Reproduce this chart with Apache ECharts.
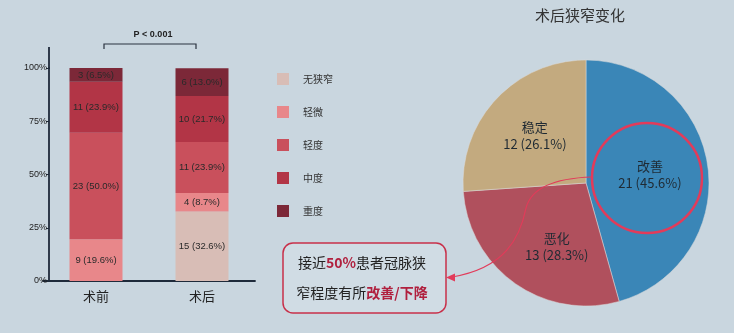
<!DOCTYPE html>
<html><head><meta charset="utf-8">
<script src="https://cdn.jsdelivr.net/npm/echarts@6/dist/echarts.min.js"></script>
<style>html,body{margin:0;padding:0;background:#c9d6df;}#c{width:734px;height:333px;}</style>
</head><body><div id="c"></div>
<script>
const categories = ['术前', '术后'];
const levels = ['无狭窄', '轻微', '轻度', '中度', '重度'];
const counts = [[0, 15], [9, 4], [23, 11], [11, 10], [3, 6]];
const pcts = [[0, 32.6], [19.6, 8.7], [50.0, 23.9], [23.9, 21.7], [6.5, 13.0]];
const yTicks = [0, 25, 50, 75, 100];
const pieNames = ['改善', '恶化', '稳定'];
const pieCounts = [21, 13, 12];
const piePcts = [45.6, 28.3, 26.1];

const levelColors = ['#d8bdb6', '#e8878a', '#c9505c', '#b23546', '#7c2838'];
const pieColors = ['#3a86b7', '#b0505d', '#c3aa7f'];
const pieLabelOffsets = [[0, 0], [8, 11], [-4, -3]];
const FONT = 'Noto Sans CJK SC, Noto Sans, sans-serif';

const chart = echarts.init(document.getElementById('c'));
const barSeries = levels.map((lv, i) => ({
  name: lv, type: 'bar', stack: 'a', barWidth: 53,
  itemStyle: { color: levelColors[i] },
  data: pcts[i].map((p, j) => ({ value: p, cnt: counts[i][j] })),
  label: {
    show: true, position: 'inside', color: '#2a2a2a', fontSize: 9.5,
    fontFamily: 'Liberation Sans, Arial, sans-serif',
    formatter: (pr) => pr.value > 0 ? pr.data.cnt + ' (' + pr.value.toFixed(1) + '%)' : ''
  }
}));

chart.setOption({
  backgroundColor: '#c9d6df',
  animation: false,
  grid: { left: 43, width: 212, top: 68, bottom: 52 },
  xAxis: {
    type: 'category', data: categories,
    axisLine: { lineStyle: { color: '#1e2a3a', width: 1.8 } },
    axisTick: { show: false },
    axisLabel: { color: '#222', fontSize: 13, fontFamily: FONT, margin: 9 }
  },
  yAxis: {
    type: 'value', min: 0, max: 100, interval: 25, offset: -6,
    axisLine: { show: true, lineStyle: { color: '#1e2a3a', width: 1.8 } },
    axisTick: { show: true, length: 3, lineStyle: { color: '#1e2a3a' } },
    splitLine: { show: false },
    axisLabel: { color: '#222', fontSize: 9, margin: 2, fontFamily: 'Liberation Sans, Arial, sans-serif',
      formatter: (v) => yTicks.includes(v) ? v + '%' : '' }
  },
  legend: {
    orient: 'vertical', left: 272, top: 68, itemWidth: 12, itemHeight: 12, itemGap: 21,
    icon: 'rect', data: levels,
    textStyle: { color: '#333', fontSize: 10, fontFamily: FONT, padding: [0, 0, 0, 9] }
  },
  series: barSeries.concat([{
    type: 'pie', center: [586, 183], radius: 123, startAngle: 90, clockwise: true,
    itemStyle: { borderColor: 'rgba(220,220,220,0.5)', borderWidth: 1 },
    label: {
      show: true, position: 'inside', color: '#1f2a33', fontSize: 13, lineHeight: 17,
      fontFamily: FONT,
      formatter: (pr) => pr.name + '\n' + pr.value + ' (' + piePcts[pr.dataIndex].toFixed(1) + '%)'
    },
    labelLine: { show: false },
    data: pieNames.map((n, i) => ({ name: n, value: pieCounts[i], itemStyle: { color: pieColors[i] },
      label: { offset: pieLabelOffsets[i] } }))
  }]),
  graphic: [
    { type: 'line', shape: { x1: 49, y1: 47, x2: 49, y2: 69 }, style: { stroke: '#1e2a3a', lineWidth: 1.8 } },
    { type: 'text', x: 153, y: 35, style: { text: 'P < 0.001', align: 'center', verticalAlign: 'middle', fontSize: 9, fill: '#222', fontFamily: 'Liberation Sans, Arial, sans-serif', fontWeight: 'bold' } },
    { type: 'polyline', shape: { points: [[104, 49], [104, 44], [196, 44], [196, 49]] }, style: { stroke: '#2a3340', lineWidth: 1.2, fill: null } },
    { type: 'text', x: 580, y: 15, style: { text: '术后狭窄变化', align: 'center', verticalAlign: 'middle', fontSize: 15, fill: '#333', fontFamily: FONT } },
    { type: 'circle', shape: { cx: 647, cy: 178, r: 55 }, style: { stroke: '#e23b5a', lineWidth: 2.5, fill: null }, z: 100 },
    { type: 'bezierCurve', shape: { x1: 592, y1: 177, cpx1: 560, cpy1: 178, cpx2: 532, cpy2: 185, x2: 526, y2: 208 }, style: { stroke: '#e23b5a', lineWidth: 1.2, fill: null }, z: 100 },
    { type: 'bezierCurve', shape: { x1: 526, y1: 208, cpx1: 520, cpy1: 238, cpx2: 505, cpy2: 268, x2: 452, y2: 277 }, style: { stroke: '#e23b5a', lineWidth: 1.2, fill: null }, z: 100 },
    { type: 'polygon', shape: { points: [[446, 277.5], [455, 273.5], [455, 281.5]] }, style: { fill: '#e23b5a' }, z: 100 },
    { type: 'rect', shape: { x: 283, y: 243, width: 163, height: 70, r: 10 }, style: { stroke: '#c8304a', lineWidth: 1.5, fill: 'rgba(214,224,232,0.6)' }, z: 90 },
    { type: 'text', x: 362, y: 278, z: 95, style: {
      text: '接近{r|50%}患者冠脉狭\n窄程度有所{r|改善/下降}',
      align: 'center', verticalAlign: 'middle', fontSize: 14, lineHeight: 30, fill: '#222', fontFamily: FONT,
      rich: { r: { fontSize: 14, fontWeight: 'bold', fill: '#b0203e', fontFamily: FONT } }
    } }
  ]
});
</script></body></html>
